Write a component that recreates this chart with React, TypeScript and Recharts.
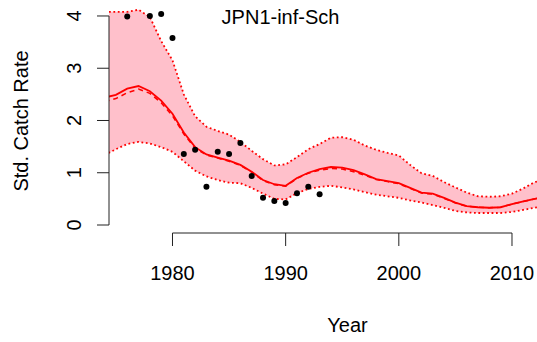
import React from "react";
import {
  ComposedChart,
  Area,
  Line,
  Scatter,
  XAxis,
  YAxis,
  ReferenceLine,
  Customized,
} from "recharts";

// Annual grid for the fitted index and its interval
const years = [
  1974, 1975, 1976, 1977, 1978, 1979, 1980, 1981, 1982, 1983,
  1984, 1985, 1986, 1987, 1988, 1989, 1990, 1991, 1992, 1993,
  1994, 1995, 1996, 1997, 1998, 1999, 2000, 2001, 2002, 2003,
  2004, 2005, 2006, 2007, 2008, 2009, 2010, 2011, 2012, 2013,
];

// Fitted standardized catch rate (solid)
const fitted = [
  2.44, 2.49, 2.61, 2.66, 2.56, 2.38, 2.13, 1.77, 1.49, 1.35,
  1.29, 1.23, 1.15, 1.02, 0.86, 0.78, 0.75, 0.90, 1.00, 1.07,
  1.11, 1.10, 1.05, 0.97, 0.88, 0.84, 0.80, 0.71, 0.62, 0.60,
  0.52, 0.43, 0.36, 0.34, 0.33, 0.34, 0.40, 0.45, 0.50, 0.54,
];

// Alternative fit (dashed)
const fittedAlt = [
  2.36, 2.42, 2.53, 2.60, 2.52, 2.34, 2.09, 1.74, 1.47, 1.34,
  1.28, 1.22, 1.14, 1.01, 0.85, 0.77, 0.74, 0.89, 0.99, 1.05,
  1.08, 1.07, 1.02, 0.95, 0.87, 0.83, 0.79, 0.70, 0.61, 0.59,
  0.51, 0.42, 0.36, 0.34, 0.33, 0.34, 0.40, 0.45, 0.50, 0.54,
];

// Upper and lower bounds of the interval
const upperCI = [
  4.08, 4.08, 4.08, 4.12, 3.98, 3.52, 3.15, 2.50, 2.08, 1.88,
  1.80, 1.73, 1.59, 1.42, 1.26, 1.14, 1.16, 1.30, 1.45, 1.55,
  1.67, 1.68, 1.63, 1.52, 1.44, 1.38, 1.33, 1.15, 0.99, 0.94,
  0.82, 0.72, 0.62, 0.55, 0.54, 0.55, 0.60, 0.70, 0.82, 0.88,
];
const lowerCI = [
  1.34, 1.45, 1.55, 1.59, 1.56, 1.49, 1.40, 1.22, 1.04, 0.93,
  0.86, 0.81, 0.80, 0.71, 0.60, 0.50, 0.49, 0.61, 0.69, 0.73,
  0.75, 0.72, 0.68, 0.63, 0.58, 0.55, 0.52, 0.47, 0.43, 0.38,
  0.33, 0.27, 0.24, 0.23, 0.23, 0.23, 0.25, 0.29, 0.33, 0.36,
];

// Observed catch rates
const obsYears = [
  1976, 1978, 1979, 1980, 1981, 1982, 1983, 1984, 1985,
  1986, 1987, 1988, 1989, 1990, 1991, 1992, 1993,
];
const obsRate = [
  3.99, 4.0, 4.04, 3.58, 1.36, 1.44, 0.73, 1.40, 1.36,
  1.57, 0.94, 0.52, 0.46, 0.42, 0.61, 0.73, 0.59,
];

const xTicks = [1980, 1990, 2000, 2010];
const yTicks = [0, 1, 2, 3, 4];
const title = "JPN1-inf-Sch";

const fitRows = years.map((year, i) => ({
  year,
  fit: fitted[i],
  alt: fittedAlt[i],
  hi: upperCI[i],
  lo: lowerCI[i],
}));
const obsRows = obsYears.map((year, i) => ({ year, rate: obsRate[i] }));

const X_MIN = 1974.39;
const X_MAX = 2012.21;
const Y_MIN = -0.153;
const Y_MAX = 4.191;

const FONT = "'Liberation Sans', Arial, Helvetica, sans-serif";
const AXIS = "#222";

const XTick = (props: any) => {
  const { x, payload } = props;
  return (
    <text x={x} y={280} textAnchor="middle" fontSize={20} fontFamily={FONT} fill="#000">
      {payload.value}
    </text>
  );
};

const YTick = (props: any) => {
  const { y, payload } = props;
  return (
    <text
      x={81}
      y={y}
      transform={`rotate(-90, 81, ${y})`}
      textAnchor="middle"
      fontSize={20}
      fontFamily={FONT}
      fill="#000"
    >
      {payload.value}
    </text>
  );
};

const Labels = () => (
  <g fontFamily={FONT} fontSize={20} fill="#000">
    <text x={280.5} y={24} textAnchor="middle">
      {title}
    </text>
    <text x={347.5} y={332} textAnchor="middle">
      Year
    </text>
    <text x={28} y={121} textAnchor="middle" transform="rotate(-90, 28, 121)">
      Std. Catch Rate
    </text>
  </g>
);

const Dot = (props: any) => <circle cx={props.cx} cy={props.cy} r={3} fill="#000" />;

export default function App() {
  return (
    <div style={{ position: "absolute", left: 0, top: 0, width: 537, height: 342, background: "#fff" }}>
      <ComposedChart
        width={537}
        height={342}
        data={fitRows}
        margin={{ top: 6, right: 0, bottom: 0, left: 0 }}
      >
        <XAxis
          dataKey="year"
          type="number"
          domain={[X_MIN, X_MAX]}
          allowDataOverflow
          ticks={xTicks}
          height={109}
          axisLine={false}
          tickLine={{ stroke: AXIS, strokeWidth: 1 }}
          tickSize={13}
          tick={<XTick />}
          interval={0}
        />
        <YAxis
          type="number"
          domain={[Y_MIN, Y_MAX]}
          allowDataOverflow
          ticks={yTicks}
          width={109}
          axisLine={false}
          tickLine={{ stroke: AXIS, strokeWidth: 1 }}
          tickSize={12}
          tick={<YTick />}
          interval={0}
        />
        <Area
          dataKey={(d: any) => [d.lo, d.hi]}
          fill="#FFC0CB"
          fillOpacity={1}
          stroke="none"
          isAnimationActive={false}
          activeDot={false}
        />
        <Line
          dataKey="hi"
          stroke="#FF0000"
          strokeWidth={1.8}
          strokeDasharray="1.8 2.6"
          dot={false}
          activeDot={false}
          isAnimationActive={false}
        />
        <Line
          dataKey="lo"
          stroke="#FF0000"
          strokeWidth={1.8}
          strokeDasharray="1.8 2.6"
          dot={false}
          activeDot={false}
          isAnimationActive={false}
        />
        <Line
          dataKey="alt"
          stroke="#FF0000"
          strokeWidth={1.5}
          strokeDasharray="5 4"
          dot={false}
          activeDot={false}
          isAnimationActive={false}
        />
        <Line
          dataKey="fit"
          stroke="#FF0000"
          strokeWidth={1.8}
          dot={false}
          activeDot={false}
          isAnimationActive={false}
        />
        <Scatter data={obsRows} dataKey="rate" shape={<Dot />} isAnimationActive={false} />
        <ReferenceLine
          segment={[
            { x: xTicks[0], y: Y_MIN },
            { x: xTicks[xTicks.length - 1], y: Y_MIN },
          ]}
          stroke={AXIS}
          strokeWidth={1}
          ifOverflow="visible"
        />
        <ReferenceLine
          segment={[
            { x: X_MIN, y: yTicks[0] },
            { x: X_MIN, y: yTicks[yTicks.length - 1] },
          ]}
          stroke={AXIS}
          strokeWidth={1}
          ifOverflow="visible"
        />
        <Customized component={Labels} />
      </ComposedChart>
    </div>
  );
}
